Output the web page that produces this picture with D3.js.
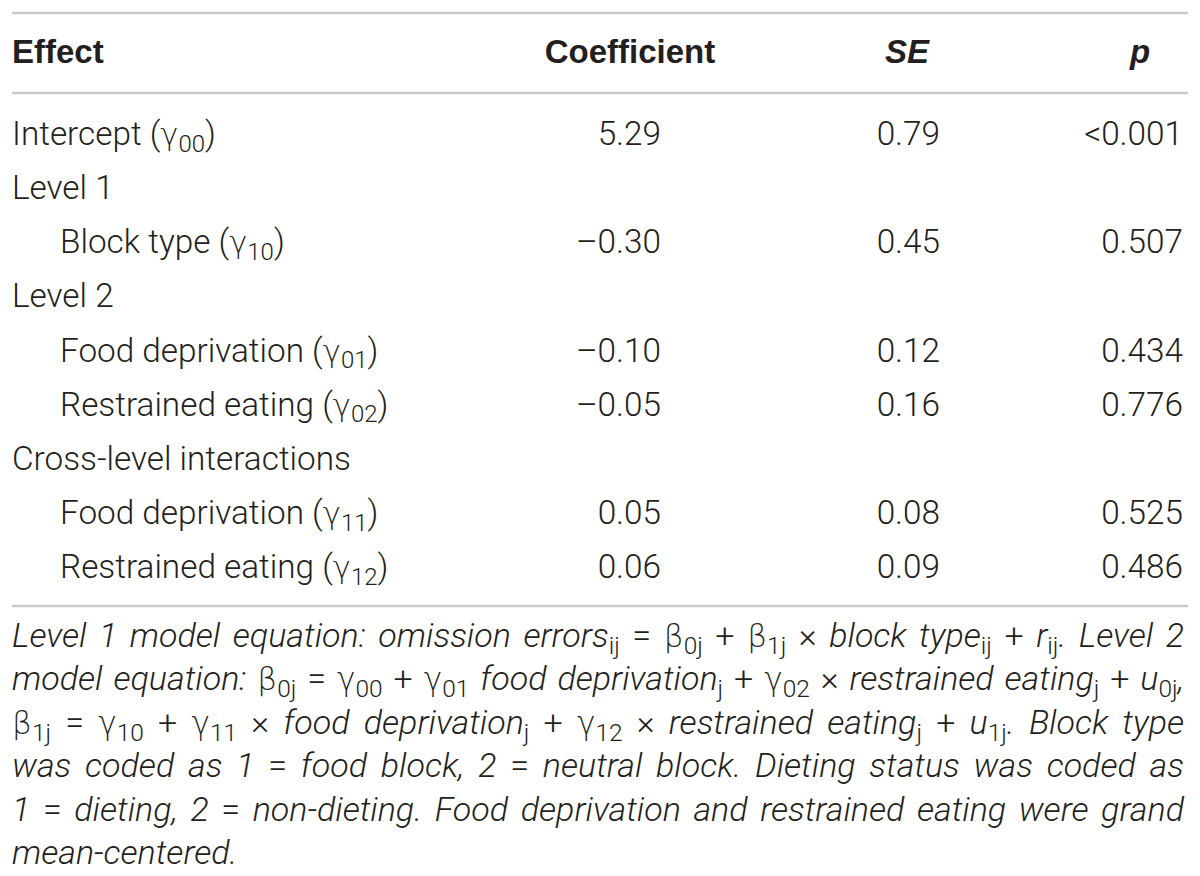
<!DOCTYPE html>
<html>
<head>
<meta charset="utf-8">
<script src="https://cdn.jsdelivr.net/npm/d3@7"></script>
<style>
  body { margin: 0; background: #fff; }
  svg text { font-family: Roboto, "Liberation Sans", Arial, sans-serif; font-weight: 300; fill: #231f20; }
  svg text.head { font-family: "Liberation Sans", Arial, sans-serif; font-weight: 700; }
  svg tspan.greek { font-family: "DejaVu Sans", sans-serif; font-weight: 300; }
</style>
</head>
<body>
<svg id="chart" width="1200" height="876"></svg>
<script>
// table content
var headers = ["Effect", "Coefficient", "SE", "p"];
var headerItalic = [false, false, true, true];
var effects = [
  "Intercept (γ_{00})",
  "Level 1",
  "Block type (γ_{10})",
  "Level 2",
  "Food deprivation (γ_{01})",
  "Restrained eating (γ_{02})",
  "Cross-level interactions",
  "Food deprivation (γ_{11})",
  "Restrained eating (γ_{12})"
];
var indented = [0, 0, 1, 0, 1, 1, 0, 1, 1];
var coefficients = ["5.29", "", "–0.30", "", "–0.10", "–0.05", "", "0.05", "0.06"];
var stdErrors = ["0.79", "", "0.45", "", "0.12", "0.16", "", "0.08", "0.09"];
var pValues = ["<0.001", "", "0.507", "", "0.434", "0.776", "", "0.525", "0.486"];

// footnote, one entry per printed line
var noteLines = [
  "Level 1 model equation: omission errors_{ij} = β_{0j} + β_{1j} × block type_{ij} + r_{ij}. Level 2",
  "model equation: β_{0j} = γ_{00} + γ_{01} food deprivation_{j} + γ_{02} × restrained eating_{j} + u_{0j},",
  "β_{1j} = γ_{10} + γ_{11} × food deprivation_{j} + γ_{12} × restrained eating_{j} + u_{1j}. Block type",
  "was coded as 1 = food block, 2 = neutral block. Dieting status was coded as",
  "1 = dieting, 2 = non-dieting. Food deprivation and restrained eating were grand",
  "mean-centered."
];

var svg = d3.select("#chart");
var left = 12, right = 1188;
var fs = 33.3, noteFs = 34;

var y = d3.scalePoint().domain(d3.range(effects.length)).range([145, 578]);
var yNote = d3.scalePoint().domain(d3.range(noteLines.length)).range([647, 864]);
var colX = d3.scaleOrdinal().domain(["coef", "se", "p"]).range([661, 940, 1183]);
var headX = [left, 630, 907, 1140];

// split "text_{sub}" into pieces
function parseRich(str) {
  var out = [], re = /_\{([^}]*)\}/g, last = 0, m;
  while ((m = re.exec(str))) {
    if (m.index > last) out.push({ text: str.slice(last, m.index), sub: false });
    out.push({ text: m[1], sub: true });
    last = re.lastIndex;
  }
  if (last < str.length) out.push({ text: str.slice(last), sub: false });
  return out;
}

function addRich(sel, str, size, italic) {
  var shift = 0, drop = size * 0.2;
  parseRich(str).forEach(function(s) {
    if (s.sub) {
      sel.append("tspan").attr("font-size", size * 0.72).attr("dy", drop - shift)
        .attr("font-style", "normal").text(s.text);
      shift = drop;
      return;
    }
    // upright greek and math signs, italic for the rest
    s.text.match(/[βγ]+|[=+×]+|[^βγ=+×]+/g).forEach(function(r) {
      var greek = /[βγ]/.test(r), sym = /[=+×]/.test(r);
      var t = sel.append("tspan").attr("font-size", greek ? size * 0.92 : size)
        .classed("greek", greek)
        .attr("font-style", italic && !greek && !sym ? "italic" : "normal").text(r);
      if (shift) { t.attr("dy", -shift); shift = 0; }
    });
  });
}

// rules
svg.selectAll("line.rule").data([13, 93, 606]).enter().append("line")
  .attr("class", "rule")
  .attr("x1", left).attr("x2", right)
  .attr("y1", function(d) { return d; }).attr("y2", function(d) { return d; })
  .attr("stroke", "#c9c9c9").attr("stroke-width", 2.5);

// header
svg.selectAll("text.head").data(headers).enter().append("text")
  .attr("class", "head")
  .attr("x", function(d, i) { return headX[i]; })
  .attr("y", 63)
  .attr("text-anchor", function(d, i) { return i === 0 ? "start" : "middle"; })
  .attr("font-size", 33)
  .attr("font-style", function(d, i) { return headerItalic[i] ? "italic" : "normal"; })
  .text(function(d) { return d; });

// effect labels
effects.forEach(function(e, i) {
  var t = svg.append("text").attr("x", indented[i] ? 60 : left).attr("y", y(i));
  addRich(t, e, fs, false);
});

// numeric columns
[["coef", coefficients], ["se", stdErrors], ["p", pValues]].forEach(function(c) {
  svg.selectAll("text.col-" + c[0]).data(c[1]).enter().append("text")
    .attr("class", "col-" + c[0])
    .attr("x", colX(c[0]))
    .attr("y", function(d, i) { return y(i); })
    .attr("text-anchor", "end")
    .attr("font-size", fs)
    .text(function(d) { return d; });
});

// footnote, justified word by word
var noteRight = 1184;
noteLines.forEach(function(line, li) {
  var words = line.split(" ");
  var g = svg.append("g").attr("class", "note");
  var nodes = words.map(function(w) {
    var t = g.append("text").attr("y", yNote(li));
    addRich(t, w, noteFs, true);
    return t;
  });
  var widths = nodes.map(function(n) { return n.node().getComputedTextLength(); });
  var isLast = li === noteLines.length - 1;
  var gap = isLast ? noteFs * 0.26 : (noteRight - left - d3.sum(widths)) / (words.length - 1);
  var x = left;
  nodes.forEach(function(n, i) { n.attr("x", x); x += widths[i] + gap; });
});
</script>
</body>
</html>
